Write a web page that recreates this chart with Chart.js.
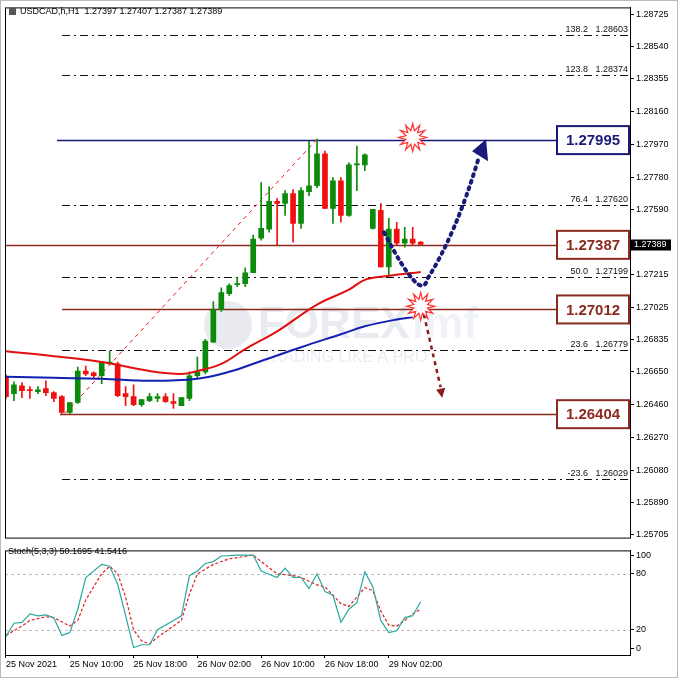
<!DOCTYPE html>
<html><head><meta charset="utf-8">
<script src="https://cdn.jsdelivr.net/npm/chart.js@4.4.0/dist/chart.umd.min.js"></script>
<style>
html,body{margin:0;padding:0;background:#fff;width:678px;height:678px;overflow:hidden}
#c1{position:absolute;left:0;top:0}
#c2{position:absolute;left:0;top:543px}
#frame{position:absolute;left:0;top:0;width:676px;height:676px;border:1px solid #bbb;pointer-events:none}
</style></head><body>
<canvas id="c1" width="678" height="545"></canvas>
<canvas id="c2" width="678" height="135"></canvas>
<div id="frame"></div>
<script>
const opens =[1.26621,1.26523,1.26569,1.26546,1.26535,1.26552,1.26529,1.26506,1.26414,1.26472,1.26655,1.26644,1.26627,1.26696,1.26696,1.26523,1.26506,1.26460,1.26483,1.26495,1.26506,1.26477,1.26454,1.26495,1.26627,1.26650,1.26822,1.27012,1.27104,1.27156,1.27161,1.27225,1.27426,1.27478,1.27639,1.27627,1.27685,1.27512,1.27696,1.27730,1.27915,1.27598,1.27759,1.27558,1.27851,1.27851,1.27483,1.27587,1.27259,1.27478,1.27397,1.27420,1.27403];
const highs =[1.26632,1.26592,1.26587,1.26564,1.26564,1.26598,1.26535,1.26512,1.26472,1.26678,1.26684,1.26650,1.26707,1.26770,1.26707,1.26564,1.26575,1.26489,1.26523,1.26523,1.26523,1.26523,1.26500,1.26650,1.26736,1.26839,1.27058,1.27138,1.27161,1.27196,1.27253,1.27443,1.27748,1.27725,1.27656,1.27702,1.27708,1.27719,1.27989,1.28001,1.27932,1.27777,1.27777,1.27863,1.27960,1.27915,1.27593,1.27627,1.27541,1.27518,1.27489,1.27489,1.27408];
const lows  =[1.26495,1.26483,1.26500,1.26495,1.26523,1.26512,1.26477,1.26408,1.26408,1.26466,1.26627,1.26610,1.26581,1.26696,1.26506,1.26454,1.26454,1.26449,1.26477,1.26477,1.26472,1.26437,1.26454,1.26483,1.26610,1.26638,1.26822,1.27000,1.27093,1.27144,1.27144,1.27225,1.27414,1.27460,1.27386,1.27558,1.27403,1.27483,1.27673,1.27719,1.27598,1.27512,1.27518,1.27552,1.27702,1.27817,1.27478,1.27259,1.27207,1.27386,1.27374,1.27386,1.27391];
const closes=[1.26506,1.26575,1.26541,1.26541,1.26546,1.26529,1.26495,1.26414,1.26472,1.26655,1.26638,1.26627,1.26707,1.26707,1.26512,1.26506,1.26460,1.26489,1.26506,1.26506,1.26477,1.26466,1.26500,1.26627,1.26650,1.26828,1.27012,1.27110,1.27150,1.27161,1.27225,1.27420,1.27483,1.27639,1.27627,1.27685,1.27512,1.27702,1.27730,1.27915,1.27598,1.27759,1.27558,1.27851,1.27857,1.27909,1.27593,1.27259,1.27478,1.27397,1.27420,1.27397,1.27389];
const maRedIdx=[0,7,12,18,22,24,27,30,34,39,43,45,48,52];
const maRed=[1.26770,1.26736,1.26707,1.26655,1.26638,1.26655,1.26696,1.26782,1.26885,1.27040,1.27127,1.27184,1.27207,1.27230];
const maBlueIdx=[0,6,12,18,24,28,32,37,42,45,49,51];
const maBlue=[1.26621,1.26615,1.26610,1.26598,1.26610,1.26650,1.26713,1.26793,1.26868,1.26914,1.26954,1.26966];
const priceTicks=[1.28725,1.28540,1.28355,1.28160,1.27970,1.27780,1.27590,1.27215,1.27025,1.26835,1.26650,1.26460,1.26270,1.26080,1.25890,1.25705];
const fibPct=["138.2","123.8","76.4","50.0","23.6","-23.6"];
const fibVal=[1.28603,1.28374,1.27620,1.27199,1.26779,1.26029];
const levelVal=[1.27995,1.27387,1.27012,1.26404];
const levelColor=["#1a1a7a","#8b2a1e","#8b2a1e","#8b2a1e"];
const levelStart=[57,0,62,60];
const currentPrice=1.27389;
const timeLabels=["25 Nov 2021","25 Nov 10:00","25 Nov 18:00","26 Nov 02:00","26 Nov 10:00","26 Nov 18:00","29 Nov 02:00"];
const timeIdx=[0,8,16,24,32,40,48];
const kIdx=[0,1,2,3,4,5,6,7,8,9,10,12,13,14,16,17,18,19,21,22,23,24,25,26,27,29,31,32,34,35,36,37,38,39,40,41,42,43,44,45,46,47,48,49,50,51,52];
const kVal=[13,27,28,37,35,36,33,14,17,42,76,90,88,69,1,4,4,20,30,35,78,83,91,93,99,100,100,83,76,86,76,76,64,80,61,57,28,42,49,82,66,30,17,19,33,35,50];
const dIdx=[0,2,3,5,6,8,9,10,12,13,14,15,16,17,18,19,21,22,23,24,26,28,31,32,34,36,37,38,39,40,42,43,45,46,47,48,49,50,51,52];
const dVal=[14,24,30,34,33,24,30,52,80,88,80,55,20,8,5,12,24,30,58,80,90,96,100,93,80,78,76,72,68,66,48,45,65,62,40,25,24,30,37,42];

const XMIN=-0.125, XMAX=78.25;
const GREEN="#0b8a0b", RED="#f01010";
const idx=opens.map((_,i)=>i);
const up=i=>closes[i]>=opens[i];
const bodies=idx.map(i=>({x:i,y:[opens[i],closes[i]]}));
const wicks=idx.map(i=>({x:i,y:[lows[i],highs[i]]}));
const colors=idx.map(i=>up(i)?GREEN:RED);
const F="'Liberation Sans', Arial, sans-serif";

const overlay={id:'ov',
 beforeDatasetsDraw(ch){
  const c=ch.ctx,x=ch.scales.x,y=ch.scales.y,a=ch.chartArea;
  c.save();
  c.globalAlpha=0.11;c.fillStyle="#3a4a7a";c.font="bold 44px "+F;c.textAlign="left";c.textBaseline="middle";
  c.beginPath();c.arc(228,325,24,0,Math.PI*2);c.fill();
  c.fillText("FOREX",258,326);c.fillStyle="#6a8ab8";c.fillText("imf",412,326);
  c.font="16px "+F;c.fillStyle="#3a4a7a";c.fillText("TRADING LIKE A PRO",262,358);
  c.globalAlpha=1;
  c.setLineDash([8,4,2,4]);c.strokeStyle="#111";c.lineWidth=1;
  fibVal.forEach((v,k)=>{const py=Math.round(y.getPixelForValue(v))+0.5;c.beginPath();c.moveTo(62,py);c.lineTo(a.right,py);c.stroke();});
  c.setLineDash([]);c.fillStyle="#111";c.font="9px "+F;c.textAlign="right";c.textBaseline="bottom";
  fibVal.forEach((v,k)=>{const py=y.getPixelForValue(v);c.fillText(fibPct[k]+"   "+v.toFixed(5),a.right-2,py-1);});
  c.strokeStyle="#aaa";c.beginPath();c.moveTo(a.left,Math.round(y.getPixelForValue(currentPrice))+0.5);c.lineTo(a.right,Math.round(y.getPixelForValue(currentPrice))+0.5);c.stroke();
  levelVal.forEach((v,k)=>{const py=Math.round(y.getPixelForValue(v))+0.5;c.strokeStyle=levelColor[k];c.lineWidth=k==0?1.6:1.4;c.beginPath();c.moveTo(Math.max(a.left,levelStart[k]),py);c.lineTo(a.right,py);c.stroke();});
  c.strokeStyle=RED;c.lineWidth=1;c.setLineDash([4,4]);c.beginPath();
  c.moveTo(x.getPixelForValue(7.4),y.getPixelForValue(1.26408));c.lineTo(x.getPixelForValue(39),y.getPixelForValue(1.28001));c.stroke();c.setLineDash([]);
  c.restore();
 },
 afterDatasetsDraw(ch){
  const c=ch.ctx,x=ch.scales.x,y=ch.scales.y,a=ch.chartArea;
  c.save();
  const P=(i,v)=>[x.getPixelForValue(i),y.getPixelForValue(v)];
  const p0=P(47.4,1.27460),p1=P(52.6,1.27213),p2=P(59.2,1.27880);
  c.strokeStyle="#1a1a7a";c.lineWidth=4;c.setLineDash([2,5]);c.lineCap="round";
  c.beginPath();c.moveTo(...p0);c.quadraticCurveTo(p1[0]-4,p1[1]+30,p1[0]+2,p1[1]+4);
  c.quadraticCurveTo(p1[0]+30,p1[1]-40,p2[0],p2[1]);c.stroke();c.setLineDash([]);
  const tip=P(60.2,1.28000);c.fillStyle="#1a1a7a";c.beginPath();c.moveTo(tip[0],tip[1]);c.lineTo(tip[0]-14,tip[1]+12);c.lineTo(tip[0]+2,tip[1]+22);c.closePath();c.fill();
  const q0=P(52.4,1.26983),q1=P(54.5,1.26560);
  c.strokeStyle="#8b1a1a";c.lineWidth=2.5;c.setLineDash([4,4]);c.lineCap="butt";
  c.beginPath();c.moveTo(...q0);c.lineTo(...q1);c.stroke();c.setLineDash([]);
  const t2=P(54.7,1.26500);c.fillStyle="#8b1a1a";c.beginPath();c.moveTo(t2[0],t2[1]);c.lineTo(t2[0]-6,t2[1]-8);c.lineTo(t2[0]+3,t2[1]-10);c.closePath();c.fill();
  const star=(cx,cy)=>{c.beginPath();for(let k=0;k<24;k++){const r=k%2?7:14,ang=k*Math.PI/12;c.lineTo(cx+r*Math.cos(ang),cy+r*Math.sin(ang));}c.closePath();c.fillStyle="#fff";c.fill();c.strokeStyle="#ff3030";c.lineWidth=1.2;c.stroke();};
  star(...P(51,1.28010));star(...P(52,1.27030));
  levelVal.forEach((v,k)=>{const py=y.getPixelForValue(v);c.fillStyle="#fff";c.fillRect(557,py-14,72,28);c.strokeStyle=levelColor[k];c.lineWidth=2;c.strokeRect(557,py-14,72,28);
   c.fillStyle=levelColor[k];c.font="bold 15px "+F;c.textAlign="center";c.textBaseline="middle";c.fillText(v.toFixed(5),593,py+1);});
  c.strokeStyle="#000";c.lineWidth=1;c.strokeRect(a.left+0.5,a.top+0.5,a.right-a.left,a.bottom-a.top);
  const cp=y.getPixelForValue(currentPrice);c.fillStyle="#000";c.fillRect(a.right+1,cp-5,40,11);c.fillStyle="#fff";c.font="9px "+F;c.textAlign="left";c.textBaseline="middle";c.fillText(currentPrice.toFixed(5),a.right+4,cp+0.5);
  c.fillStyle="#000";c.font="9px "+F;c.textAlign="left";c.textBaseline="middle";
  c.fillStyle="#555";c.fillRect(9,8,7,7);c.fillStyle="#000";c.fillText("USDCAD,h,H1  1.27397 1.27407 1.27387 1.27389",20,12);
  c.restore();
 }};

new Chart(document.getElementById('c1'),{
 type:'bar',
 data:{datasets:[
  {type:'line',data:maRedIdx.map((i,k)=>({x:i,y:maRed[k]})),borderColor:"#e01010",borderWidth:2,pointRadius:0,tension:0.4,order:0},
  {type:'line',data:maBlueIdx.map((i,k)=>({x:i,y:maBlue[k]})),borderColor:"#1020b0",borderWidth:2,pointRadius:0,tension:0.4,order:0},
  {data:wicks,backgroundColor:colors,barThickness:1,grouped:false,order:2},
  {data:bodies,backgroundColor:colors,barThickness:5,grouped:false,minBarLength:1,order:1}
 ]},
 options:{animation:false,responsive:false,devicePixelRatio:1,
  layout:{padding:{top:5,left:5,right:0,bottom:0}},
  plugins:{legend:{display:false},tooltip:{enabled:false}},
  scales:{
   x:{type:'linear',min:XMIN,max:XMAX,display:false,offset:false},
   y:{type:'linear',position:'right',min:1.25705-(540-537)/17384,max:1.28725+(12-5)/17384,
      afterBuildTicks:s=>{s.ticks=priceTicks.map(v=>({value:v}));},
      afterFit:s=>{s.width=48;},
      grid:{drawOnChartArea:false,tickLength:4,color:"#000"},border:{color:"#000"},
      ticks:{color:"#000",font:{size:9,family:"'Liberation Sans', Arial"},padding:2,callback:v=>v.toFixed(5)}}
  }},
 plugins:[overlay]
});

const stochOv={id:'so',afterDatasetsDraw(ch){const c=ch.ctx,a=ch.chartArea,y=ch.scales.y;c.save();
 c.strokeStyle="#000";c.lineWidth=1;c.strokeRect(a.left+0.5,a.top+0.5,a.right-a.left,a.bottom-a.top);
 c.fillStyle="#000";c.font="9px "+F;c.textBaseline="middle";c.fillText("Stoch(5,3,3) 50.1695 41.5416",8,9);c.restore();},
 beforeDatasetsDraw(ch){const c=ch.ctx,a=ch.chartArea,y=ch.scales.y;c.save();c.strokeStyle="#bbb";c.setLineDash([3,3]);
 [80,20].forEach(v=>{const py=Math.round(y.getPixelForValue(v))+0.5;c.beginPath();c.moveTo(a.left,py);c.lineTo(a.right,py);c.stroke();});c.restore();}};

new Chart(document.getElementById('c2'),{
 type:'line',
 data:{datasets:[
  {data:kIdx.map((i,k)=>({x:i,y:kVal[k]})),borderColor:"#2aa8a0",borderWidth:1.2,pointRadius:0,tension:0},
  {data:dIdx.map((i,k)=>({x:i,y:dVal[k]})),borderColor:"#e02020",borderWidth:1.2,borderDash:[3,2],pointRadius:0,tension:0}
 ]},
 options:{animation:false,responsive:false,devicePixelRatio:1,
  layout:{padding:{top:2,left:5,right:0,bottom:0}},
  plugins:{legend:{display:false},tooltip:{enabled:false}},
  scales:{
   x:{type:'linear',min:XMIN,max:XMAX,afterBuildTicks:s=>{s.ticks=timeIdx.map(v=>({value:v}));},
      afterFit:s=>{s.height=23;},
      grid:{drawOnChartArea:false,tickLength:3,color:"#000"},border:{color:"#000"},
      ticks:{align:'start',maxRotation:0,autoSkip:false,color:"#000",font:{size:9,family:"'Liberation Sans', Arial"},padding:1,
       callback:v=>{const k=timeIdx.indexOf(v);return k>=0?timeLabels[k]:'';}}},
   y:{type:'linear',position:'right',min:-7,max:105,
      afterBuildTicks:s=>{s.ticks=[0,20,80,100].map(v=>({value:v}));},
      afterFit:s=>{s.width=48;},
      grid:{drawOnChartArea:false,tickLength:4,color:"#000"},border:{color:"#000"},
      ticks:{color:"#000",font:{size:9,family:"'Liberation Sans', Arial"},padding:2}}
  }},
 plugins:[stochOv]
});
</script></body></html>
